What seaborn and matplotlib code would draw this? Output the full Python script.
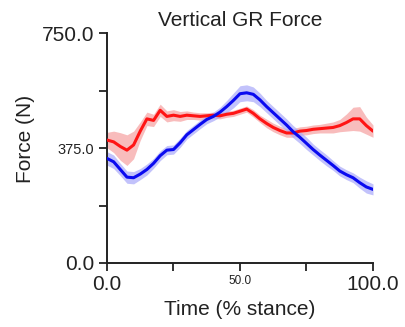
import numpy as np
import pandas as pd
import matplotlib
matplotlib.use("Agg")
import matplotlib.pyplot as plt
import seaborn as sns

# ---- data ----
time_pct = [0, 2.5, 5, 7.5, 10, 12.5, 15, 17.5, 20, 22.5, 25, 27.5, 30, 32.5, 35, 37.5,
            40, 42.5, 45, 47.5, 50, 52.5, 55, 57.5, 60, 62.5, 65, 67.5, 70, 72.5, 75,
            77.5, 80, 82.5, 85, 87.5, 90, 92.5, 95, 97.5, 100]

blue_mean = [341, 330, 305, 280, 278, 290, 305, 325, 350, 368, 370, 392, 418, 435, 452, 468,
             478, 492, 510, 530, 552, 555, 550, 532, 510, 490, 470, 450, 428, 410, 390,
             370, 352, 335, 318, 300, 288, 278, 262, 248, 240]
blue_sd = [22, 22, 20, 20, 20, 18, 18, 16, 16, 15, 15, 15, 14, 14, 14, 14,
           14, 16, 20, 24, 26, 26, 24, 22, 20, 20, 20, 20, 20, 20, 20,
           18, 18, 18, 16, 16, 16, 16, 18, 20, 18]

red_mean = [401, 395, 380, 368, 385, 430, 470, 465, 498, 478, 482, 478, 482, 480, 478, 480,
            482, 480, 485, 488, 495, 502, 488, 470, 455, 442, 432, 424, 424, 430, 432,
            436, 438, 440, 442, 448, 458, 470, 470, 448, 430]
red_sd = [25, 35, 45, 50, 45, 30, 22, 20, 20, 18, 18, 16, 14, 12, 12, 10,
          10, 10, 10, 10, 10, 10, 12, 12, 14, 14, 14, 14, 14, 14, 14,
          14, 14, 16, 18, 20, 28, 38, 40, 28, 20]

y_ticks = [0, 187.5, 375, 562.5, 750]
y_ticklabels = ["0.0", "", "375.0", "", "750.0"]
x_ticks = [0, 25, 50, 75, 100]
x_ticklabels = ["0.0", "", "50.0", "", "100.0"]

title = "Vertical GR Force"
xlabel = "Time (% stance)"
ylabel = "Force (N)"

# ---- style ----
sns.set_style("ticks")
plt.rcParams["font.family"] = ["Liberation Sans", "DejaVu Sans"]

RED = "#ff1414"
BLUE = "#0a0af0"
RED_BAND = "#f6a0a0"
BLUE_BAND = "#a8a8fa"

fig = plt.figure(figsize=(4.06, 3.27), dpi=100)
ax = fig.add_axes([107 / 406, 1 - 263 / 327, (373 - 107) / 406, (263 - 33) / 327])

df = pd.DataFrame({
    "time": time_pct * 2,
    "force": blue_mean + red_mean,
    "group": ["blue"] * len(time_pct) + ["red"] * len(time_pct),
})

t = np.array(time_pct)
bm, bs = np.array(blue_mean), np.array(blue_sd)
rm, rs = np.array(red_mean), np.array(red_sd)

ax.fill_between(t, rm - rs, rm + rs, color=RED_BAND, alpha=0.7, lw=0, zorder=1)
ax.fill_between(t, bm - bs, bm + bs, color=BLUE_BAND, alpha=0.7, lw=0, zorder=1)

sns.lineplot(data=df, x="time", y="force", hue="group",
             palette={"blue": BLUE, "red": RED}, hue_order=["red", "blue"],
             linewidth=2.2, legend=False, ax=ax, zorder=3)

ax.set_xlim(0, 100)
ax.set_ylim(0, 750)
ax.margins(0)

ax.set_yticks(y_ticks)
ax.set_yticklabels(y_ticklabels)
ax.set_xticks(x_ticks)
ax.set_xticklabels(x_ticklabels)

sizes_big = 15
for lbl in ax.get_yticklabels():
    lbl.set_fontsize(10.5 if lbl.get_text() == "375.0" else sizes_big)
for lbl in ax.get_xticklabels():
    lbl.set_fontsize(8.5 if lbl.get_text() == "50.0" else sizes_big)

ax.tick_params(axis="both", direction="out", length=6, width=1.3, color="#222222",
               labelcolor="#222222", pad=3)

sns.despine(ax=ax)
for s in ["left", "bottom"]:
    ax.spines[s].set_linewidth(1.4)
    ax.spines[s].set_color("#222222")

ax.set_title(title, fontsize=15, color="#222222", pad=5)
ax.set_xlabel(xlabel, fontsize=15, color="#222222", labelpad=4)
ax.set_ylabel(ylabel, fontsize=15, color="#222222")
ax.yaxis.set_label_coords(-0.27, 0.54)

fig.savefig("out.png", dpi=100)
